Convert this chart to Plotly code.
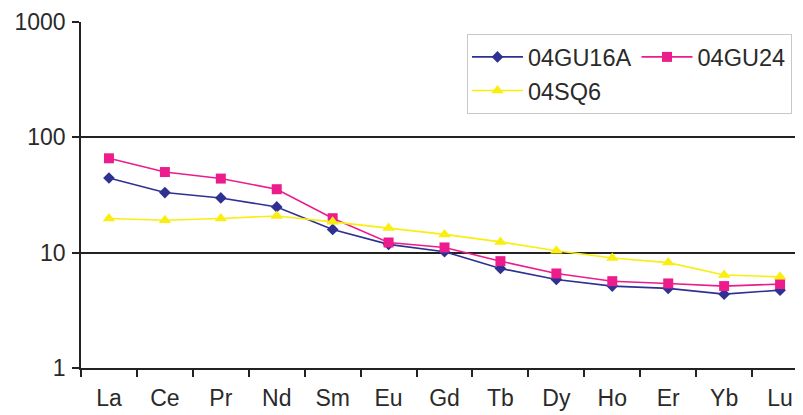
import plotly.graph_objects as go

elements = ["La", "Ce", "Pr", "Nd", "Sm", "Eu", "Gd", "Tb", "Dy", "Ho", "Er", "Yb", "Lu"]
gu16a = [44.4, 33.2, 29.8, 24.9, 15.9, 11.8, 10.2, 7.3, 5.86, 5.13, 4.9, 4.37, 4.73]
gu24 = [65.8, 50.0, 43.9, 35.5, 19.9, 12.25, 11.1, 8.44, 6.6, 5.66, 5.41, 5.13, 5.34]
sq6 = [19.8, 19.1, 19.8, 20.8, 18.5, 16.4, 14.4, 12.4, 10.4, 9.0, 8.2, 6.4, 6.17]
ytick_vals = [1, 10, 100, 1000]
ytick_text = ["1", "10", "100", "1000"]

FONT = "Liberation Sans, Arial, sans-serif"
TXT = "#2a2a2a"

fig = go.Figure()
fig.add_trace(go.Scatter(
    x=elements, y=gu16a, name="04GU16A", mode="lines+markers",
    line=dict(color="#2E3192", width=1.6),
    marker=dict(symbol="diamond", size=9, color="#2E3192"),
    legendgroup="a"))
fig.add_trace(go.Scatter(
    x=elements, y=gu24, name="04GU24", mode="lines+markers",
    line=dict(color="#EC1C8C", width=1.6),
    marker=dict(symbol="square", size=10, color="#EC1C8C"),
    legendgroup="b"))
fig.add_trace(go.Scatter(
    x=elements, y=sq6, name="04SQ6", mode="lines+markers",
    line=dict(color="#F9EE10", width=1.6),
    marker=dict(symbol="triangle-up", size=11, color="#F9EE10"),
    legendgroup="a"))

# page body has an 8px margin; compensate so the plot lands where the reference has it
fig.update_layout(
    template="none",
    width=803, height=407,
    margin=dict(l=73, r=8, t=14, b=47, pad=0),
    paper_bgcolor="white", plot_bgcolor="white",
    font=dict(family=FONT, size=23, color=TXT),
    showlegend=True,
    legend=dict(
        orientation="h", traceorder="grouped",
        x=0.5346, xanchor="left", y=0.965, yanchor="top",
        bordercolor="#c8c8c8", borderwidth=1, bgcolor="white",
        font=dict(family=FONT, size=23.5, color=TXT),
        itemwidth=51, tracegroupgap=0,
    ),
    xaxis=dict(
        type="category", range=[-0.5, 12.41], automargin=False,
        showgrid=False, showline=True, linecolor="#222", linewidth=1.5,
        ticks="outside", ticklen=7, tickcolor="#222", tickwidth=1.5,
        tickson="boundaries", zeroline=False, ticklabelstandoff=9,
        tickfont=dict(family=FONT, size=23, color=TXT),
    ),
    yaxis=dict(
        type="log", range=[0, 3], automargin=False,
        tickvals=ytick_vals, ticktext=ytick_text,
        showgrid=True, gridcolor="#222", gridwidth=1.5,
        showline=True, linecolor="#222", linewidth=1.5,
        ticks="outside", ticklen=7, tickcolor="#222", tickwidth=1.5,
        zeroline=False, ticklabelstandoff=2,
        tickfont=dict(family=FONT, size=23, color=TXT),
    ),
)

fig.write_html("out.html")
